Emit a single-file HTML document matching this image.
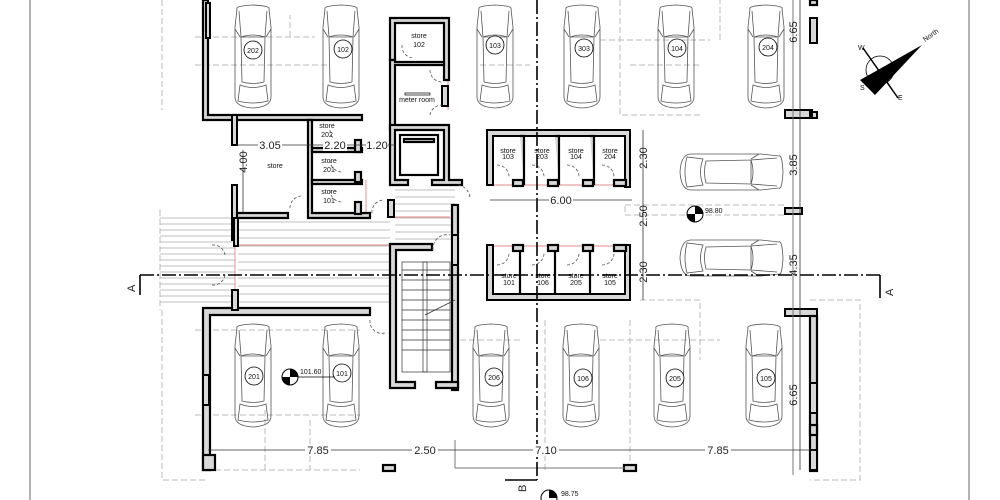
<!DOCTYPE html>
<html><head><meta charset="utf-8"><style>
html,body{margin:0;padding:0;background:#fff;}
svg{display:block;font-family:"Liberation Sans",sans-serif;}
.w{fill:#d8d8d8;stroke:#000;stroke-width:2.2}
.h{fill:#d8d8d8;stroke:#000;stroke-width:2}
.d{fill:none;stroke:#bbb;stroke-width:1;stroke-dasharray:6 3}
.c{fill:none;stroke:#555;stroke-width:0.8}
.dim{stroke:#333;stroke-width:0.8;fill:none}
.sec{stroke:#000;stroke-width:1.6;stroke-dasharray:14 3 2 3;fill:none}
.lbl{font-size:11px;fill:#222}
.sm{font-size:7px;fill:#111}
</style></head><body>
<svg width="1000" height="500" viewBox="0 0 1000 500" xmlns="http://www.w3.org/2000/svg">
<defs>
<g id="car">
<path class="c" d="M-16,-48 Q-18,-51 0,-52 Q18,-51 16,-48 L18,-30 L18,40 Q18,50 0,51 Q-18,50 -18,40 L-18,-30 Z"/>
<path class="c" d="M-14,-46 L-12,-20 L12,-20 L14,-46 M-12,-20 Q0,-24 12,-20 L11,25 Q0,28 -11,25 Z M-13,28 Q0,33 13,28 L15,44 Q0,48 -15,44 Z M-18,-28 L-13,-20 M18,-28 L13,-20"/>
</g>
</defs>
<line x1="30" y1="0" x2="30" y2="500" stroke="#999" stroke-width="1.5"/>
<line x1="969" y1="0" x2="969" y2="500" stroke="#999" stroke-width="1.5"/>
<g class="d">
<path d="M162,0 V110 M162,310 V480 H205 M160,210 V310"/>
<path d="M195,37 H315 M195,65 H330 M290,37 V15 M480,65 H530 M600,40 H710 M630,65 H700 M720,40 V0 M620,0 V115 H700"/>
<path d="M195,330 H360 M195,415 H360 M460,340 H520 M600,340 H720 M640,300 H700 V360 M630,320 V470 M545,320 V470 M215,470 H360 M265,410 V470 M310,420 V470 M810,300 H860 V480 H810"/>
<rect x="625" y="205" width="160" height="10"/>
</g>
<g stroke="#aaa" stroke-width="0.8">
<path d="M160,218 H235 M160,224 H235 M160,230 H235 M160,236 H235 M160,242 H235 M160,248 H235 M160,254 H235 M160,260 H235 M160,266 H235 M160,272 H235 M160,278 H235 M160,284 H235 M160,290 H235 M160,296 H235 M160,302 H235"/>
<path d="M238,222 H390 M238,230 H390 M238,238 H390 M238,246 H390 M238,254 H390 M238,262 H390 M238,270 H390 M238,278 H390 M238,286 H390 M238,294 H390 M238,302 H390"/>
<path d="M395,190 H455 M395,197 H455 M395,204 H455 M395,211 H455 M395,218 H455 M395,225 H455 M395,232 H455 M395,239 H455"/>
</g>
<g stroke="#d66" stroke-width="0.7" fill="none">
<path d="M238,245 H390 M366,180 V215 M448,40 V110 M490,185 H630 M490,246 H630 M235,245 V305 M388,217 H450 M456,244 V205"/>
</g>
<g class="w">
<path d="M203,0 H208 V115 H362 V120 H203 Z"/>
<rect x="206" y="3" width="4" height="35" class="h"/>
<rect x="232" y="115" width="5" height="30" class="h"/>
<rect x="232" y="185" width="5" height="55" class="h"/>
<path d="M237,213 H288 V218 H237 Z"/>
<path d="M308,120 H312 V213 H370 V218 H308 Z"/>
<path d="M312,148 H362 V152 H312 Z M312,180 H362 V184 H312 Z"/>
<rect x="355" y="140" width="6" height="12"/>
<rect x="355" y="172" width="6" height="10"/>
<rect x="355" y="202" width="6" height="12"/>
<path d="M390,18 H449 V80 H444 V23 H395 V60 H390 Z"/>
<path d="M390,60 H395 V62 H444 V65 H395 V130 H390 Z"/>
<rect x="442" y="86" width="6" height="20" class="h"/>
<path d="M390,125 H449 V180 H462 V185 H432 V180 H444 V130 H395 V180 H408 V185 H390 Z"/>
<rect x="400" y="135" width="38" height="40" fill="#fff"/>
<rect x="404" y="139" width="30" height="3"/>
<rect x="388" y="200" width="6" height="17" class="h"/>
<rect x="452" y="205" width="6" height="185"/>
<path d="M390,244 H432 V250 H396 V382 H415 V388 H390 Z"/>
<path d="M436,382 H458 V388 H436 Z"/>
<rect x="452" y="235" width="6" height="30" class="h"/>
<g stroke="#333" stroke-width="0.7" fill="none">
<rect x="402" y="262" width="48" height="110"/>
<path d="M402,270 H450 M402,280 H450 M402,290 H450 M402,300 H450 M402,310 H450 M402,320 H450 M402,330 H450 M402,340 H450 M402,350 H450"/>
<rect x="423" y="262" width="4" height="110"/>
<path d="M425,315 L455,300"/>
</g>
<path d="M487,130 H630 V187 H625 V136 H493 V185 H487 Z" class="h"/>
<path d="M520,136 H524 V185 M555,136 H559 V185 M590,136 H594 V185" />
<rect x="513" y="180" width="10" height="6"/><rect x="548" y="180" width="10" height="6"/><rect x="583" y="180" width="10" height="6"/><rect x="614" y="180" width="12" height="6"/>
<path d="M487,245 H493 V294 H625 V245 H630 V300 H487 Z" class="h"/>
<path d="M520,245 V294 M555,245 V294 M590,245 V294"/>
<rect x="513" y="245" width="10" height="6"/><rect x="548" y="245" width="10" height="6"/><rect x="583" y="245" width="10" height="6"/><rect x="614" y="245" width="12" height="6"/>
<path d="M203,308 H370 V315 H210 V470 H203 Z"/>
<rect x="203" y="375" width="6" height="30" class="h"/>
<rect x="232" y="290" width="6" height="20" class="h"/>
<rect x="234" y="218" width="4" height="28" class="h"/>
<rect x="203" y="455" width="12" height="15"/>
<rect x="383" y="465" width="12" height="6"/>
<rect x="624" y="465" width="12" height="6"/>
<rect x="810" y="0" width="7" height="5"/>
<rect x="810" y="18" width="7" height="25" class="h"/>
<path d="M785,110 H812 V118 H785 Z M810,112 H817 V118 H810 Z" class="h"/>
<rect x="785" y="208" width="17" height="6" class="h"/>
<path d="M785,309 H817 V316 H785 Z" class="h"/>
<rect x="810" y="316" width="7" height="155"/>
<rect x="810" y="383" width="7" height="30" class="h"/>
<rect x="810" y="425" width="7" height="10"/>
<rect x="810" y="450" width="7" height="20" class="h"/>
</g>
<line x1="793" y1="0" x2="793" y2="475" stroke="#777"/>
<line x1="455" y1="440" x2="455" y2="468" stroke="#777"/>
<line x1="455" y1="468" x2="625" y2="468" stroke="#777"/>
<g class="c" stroke-dasharray="3 2">
<path d="M330,130 A12,12 0 0 0 342,142 M330,160 A12,12 0 0 0 342,172 M330,190 A12,12 0 0 0 342,202 M290,208 A12,12 0 0 1 302,196 M372,213 A12,12 0 0 1 384,200 M402,45 A12,12 0 0 0 414,58 M430,70 A12,12 0 0 0 442,82 M430,115 A12,12 0 0 1 442,105 M433,250 A14,14 0 0 1 450,235 M458,185 A14,14 0 0 1 470,199 M370,320 A12,12 0 0 0 385,333 M212,245 A12,12 0 0 1 225,255 M212,285 A12,12 0 0 0 225,275"/>
<path d="M497,165 A12,12 0 0 1 509,178 M532,165 A12,12 0 0 1 544,178 M567,165 A12,12 0 0 1 579,178 M602,165 A12,12 0 0 1 614,178 M497,265 A12,12 0 0 0 509,252 M532,265 A12,12 0 0 0 544,252 M567,265 A12,12 0 0 0 579,252 M602,265 A12,12 0 0 0 614,252"/>
</g>
<g>
<use href="#car" transform="translate(253,57)"/>
<use href="#car" transform="translate(341,57)"/>
<use href="#car" transform="translate(495,57)"/>
<use href="#car" transform="translate(582,57)"/>
<use href="#car" transform="translate(676,57)"/>
<use href="#car" transform="translate(766,57)"/>
<use href="#car" transform="translate(253,376)"/>
<use href="#car" transform="translate(341,376)"/>
<use href="#car" transform="translate(491,376)"/>
<use href="#car" transform="translate(581,376)"/>
<use href="#car" transform="translate(672,376)"/>
<use href="#car" transform="translate(764,376)"/>
<use href="#car" transform="translate(731,172) rotate(90)"/>
<use href="#car" transform="translate(731,258) rotate(90)"/>
</g>
<g fill="#fff" stroke="#000" stroke-width="0.8">
<circle cx="253" cy="50" r="9"/><circle cx="343" cy="49" r="9"/><circle cx="495" cy="45" r="9"/><circle cx="584" cy="48" r="9"/><circle cx="677" cy="48" r="9"/><circle cx="768" cy="47" r="9"/>
<circle cx="254" cy="376" r="9"/><circle cx="342" cy="373" r="9"/><circle cx="494" cy="377" r="9"/><circle cx="583" cy="378" r="9"/><circle cx="675" cy="378" r="9"/><circle cx="766" cy="378" r="9"/>
</g>
<g class="sm" text-anchor="middle">
<text x="253" y="53">202</text><text x="343" y="52">102</text><text x="495" y="48">103</text><text x="584" y="51">303</text><text x="677" y="51">104</text><text x="768" y="50">204</text>
<text x="254" y="379">201</text><text x="342" y="376">101</text><text x="494" y="380">206</text><text x="583" y="381">106</text><text x="675" y="381">205</text><text x="766" y="381">105</text>
<text x="419" y="38">store</text><text x="419" y="47">102</text>
<text x="417" y="102">meter room</text>
<text x="327" y="128">store</text><text x="327" y="137">202</text>
<text x="329" y="163">store</text><text x="329" y="172">201</text>
<text x="329" y="194">store</text><text x="329" y="203">101</text>
<text x="275" y="168">store</text>
<text x="508" y="153">store</text><text x="508" y="159">103</text>
<text x="542" y="153">store</text><text x="542" y="159">203</text>
<text x="576" y="153">store</text><text x="576" y="159">104</text>
<text x="610" y="153">store</text><text x="610" y="159">204</text>
<text x="509" y="278">store</text><text x="509" y="285">101</text>
<text x="543" y="278">store</text><text x="543" y="285">106</text>
<text x="576" y="278">store</text><text x="576" y="285">205</text>
<text x="610" y="278">store</text><text x="610" y="285">105</text>
</g>
<rect x="405" y="93" width="25" height="2" fill="none" stroke="#000" stroke-width="0.7"/>
<path class="sec" d="M140,275 H880"/>
<path class="sec" d="M537,0 V480"/>
<path d="M140,275 V295 M880,275 V298 M537,480 H505" stroke="#000" stroke-width="1.6" fill="none"/>
<text x="135" y="292" class="lbl" transform="rotate(-90 135 292)">A</text>
<text x="893" y="296" class="lbl" transform="rotate(-90 893 296)">A</text>
<text x="526" y="492" class="lbl" transform="rotate(-90 526 492)">B</text>
<g class="dim">
<path d="M208,450 H815 M236,145 H395 M243,150 V213 M490,200 H632 M643,130 V300 M800,0 V470"/>
</g>
<g class="lbl" text-anchor="middle" font-size="10">
<rect x="305" y="444" width="26" height="12" fill="#fff"/><text x="318" y="454">7.85</text>
<rect x="412" y="444" width="26" height="12" fill="#fff"/><text x="425" y="454">2.50</text>
<rect x="533" y="444" width="26" height="12" fill="#fff"/><text x="546" y="454">7.10</text>
<rect x="705" y="444" width="26" height="12" fill="#fff"/><text x="718" y="454">7.85</text>
<rect x="258" y="139" width="24" height="12" fill="#fff"/><text x="270" y="149">3.05</text>
<rect x="323" y="139" width="24" height="12" fill="#fff"/><text x="335" y="149">2.20</text>
<rect x="366" y="139" width="22" height="12" fill="#fff"/><text x="377" y="149">1.20</text>
<rect x="549" y="195" width="24" height="12" fill="#fff"/><text x="561" y="204">6.00</text>
</g>
<g class="lbl" font-size="10" text-anchor="middle">
<text transform="translate(247,162) rotate(-90)">4.00</text>
<text transform="translate(647,158) rotate(-90)">2.30</text>
<text transform="translate(647,216) rotate(-90)">2.50</text>
<text transform="translate(647,272) rotate(-90)">2.30</text>
<text transform="translate(797,32) rotate(-90)">6.65</text>
<text transform="translate(797,165) rotate(-90)">3.85</text>
<text transform="translate(797,265) rotate(-90)">4.35</text>
<text transform="translate(797,395) rotate(-90)">6.65</text>
</g>
<g>
<circle cx="290" cy="377" r="8" fill="#fff" stroke="#000"/>
<path d="M290,369 A8,8 0 0 1 298,377 H290 Z M290,385 A8,8 0 0 1 282,377 H290 Z" fill="#000"/>
<line x1="298" y1="377" x2="335" y2="377" stroke="#000" stroke-width="0.7"/>
<text x="300" y="374" class="sm" font-size="8">101.60</text>
<circle cx="695" cy="214" r="8" fill="#fff" stroke="#000"/>
<path d="M695,206 A8,8 0 0 1 703,214 H695 Z M695,222 A8,8 0 0 1 687,214 H695 Z" fill="#000"/>
<text x="705" y="213" class="sm" font-size="8">98.80</text>
<circle cx="549" cy="498" r="8" fill="#fff" stroke="#000"/>
<path d="M549,490 A8,8 0 0 1 557,498 H549 Z" fill="#000"/>
<text x="561" y="496" class="sm" font-size="8">98.75</text>
</g>
<g>
<circle cx="880" cy="70" r="14" fill="none" stroke="#000" stroke-width="0.8"/>
<line x1="863" y1="48" x2="898" y2="98" stroke="#000" stroke-width="1.5"/>
<polygon points="860,80 922,45 875,95" fill="#000"/>
<text x="925" y="42" class="sm" transform="rotate(-35 925 42)">North</text>
<text x="858" y="50" class="sm">W</text>
<text x="860" y="90" class="sm">S</text>
<text x="898" y="100" class="sm">E</text>
</g>
</svg>
</body></html>
